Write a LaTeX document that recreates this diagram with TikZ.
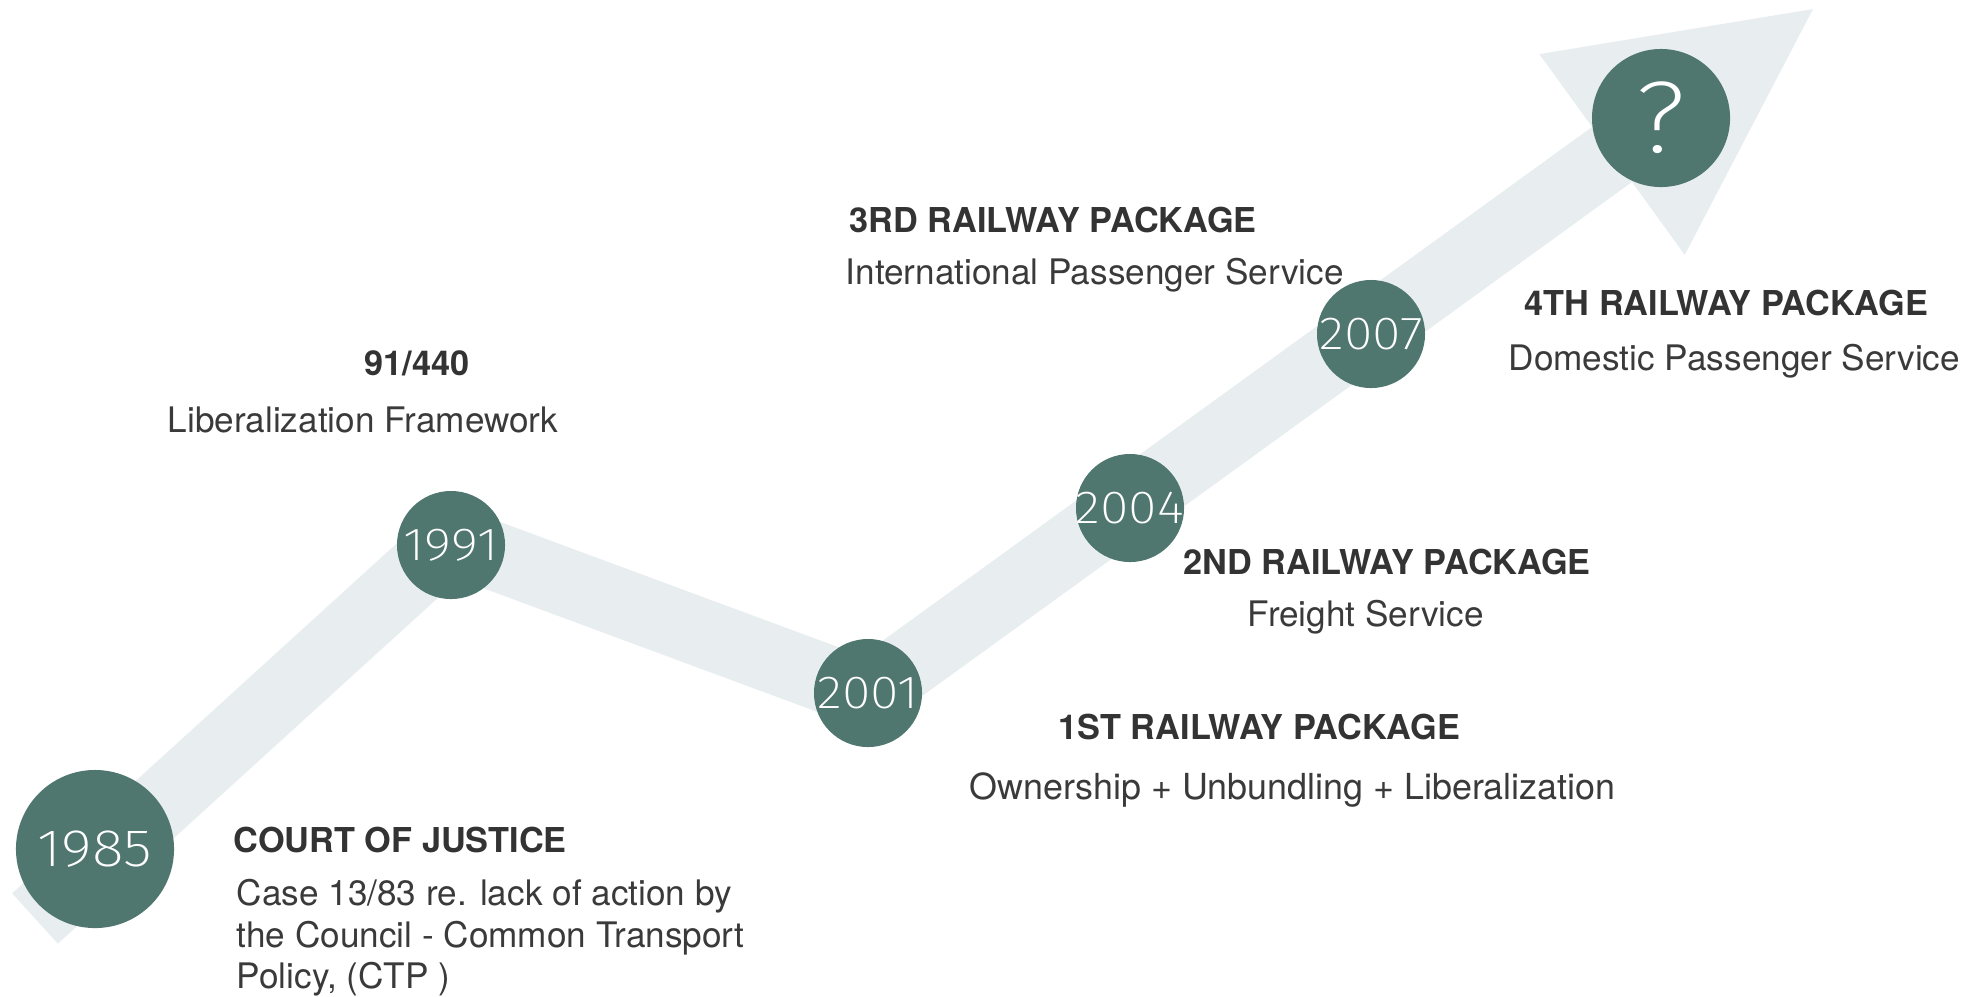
\documentclass[tikz,border=0pt]{standalone}
\usepackage{fontspec}
\setmainfont{TeX Gyre Heros}
\newfontfamily\yearfont{Fira Sans}[UprightFont={* ExtraLight},FakeStretch=1.12]
\definecolor{bandgray}{HTML}{E8EEF0}
\definecolor{yeargreen}{HTML}{50776F}
\definecolor{textgray}{HTML}{333333}
\definecolor{bodygray}{HTML}{3A3A3A}
\begin{document}
\begin{tikzpicture}[x=0.01cm,y=-0.01cm,
   yearnode/.style={circle,fill=yeargreen,text=white,inner sep=0pt,minimum size=1.08cm,font=\yearfont\fontsize{13.2}{15}\selectfont},
   headtext/.style={inner sep=0pt,text=textgray,font=\fontsize{9.75}{12}\selectfont\bfseries},
   bodytext/.style={inner sep=0pt,text=bodygray,font=\fontsize{10}{12}\selectfont}]
   \useasboundingbox (0,0) rectangle (1986,996);
   \coordinate (tail) at (35,918.5);
   \coordinate (bendA) at (451,540);
   \coordinate (bendB) at (867,694);
   \coordinate (headbase) at (1612,154.5);
   \coordinate (tip) at (1813,9);
   \coordinate (barbL) at (1539.3,54.1);
   \coordinate (barbR) at (1684.7,254.9);
   \draw[bandgray,line width=0.68cm] (tail) -- (bendA) -- (bendB) -- (headbase);
   \fill[bandgray] (barbL) -- (tip) -- (barbR) -- cycle;
   \node[yearnode,minimum size=1.58cm,font=\yearfont\fontsize{15}{17}\selectfont] (y1985) at (95,849) {\makebox[0pt]{1985}};
   \node[yearnode] (y1991) at (451,545) {\makebox[0pt]{1991}};
   \node[yearnode] (y2001) at (868,693) {\makebox[0pt]{2001}};
   \node[yearnode] (y2004) at (1130,508) {\makebox[0pt]{2004}};
   \node[yearnode] (y2007) at (1371,334) {\makebox[0pt]{2007}};
   \node[yearnode,minimum size=1.38cm,font=\yearfont\fontsize{29}{31}\selectfont] (ynext) at (1661,118) {\makebox[0pt]{?}};
   \node[headtext,anchor=base] (h91) at (417,375) {91/440};
   \node[bodytext,anchor=base] (b91) at (363,432) {Liberalization Framework};
   \node[headtext,anchor=base west] (hcourt) at (233,852) {COURT OF JUSTICE};
   \node[bodytext,anchor=base west] (bcourtA) at (236,905) {Case 13/83 re. lack of action by};
   \node[bodytext,anchor=base west] (bcourtB) at (236,947) {the Council - Common Transport};
   \node[bodytext,anchor=base west] (bcourtC) at (236,988) {Policy, (CTP )};
   \node[headtext,anchor=base west] (hfirst) at (1058,739) {1ST RAILWAY PACKAGE};
   \node[bodytext,anchor=base west,font=\fontsize{10.2}{12}\selectfont] (bfirst) at (969,799) {Ownership + Unbundling + Liberalization};
   \node[headtext,anchor=base west] (hsecond) at (1183,574) {2ND RAILWAY PACKAGE};
   \node[bodytext,anchor=base west] (bsecond) at (1247,626) {Freight Service};
   \node[headtext,anchor=base west] (hthird) at (849,232) {3RD RAILWAY PACKAGE};
   \node[bodytext,anchor=base west] (bthird) at (845,284) {International Passenger Service};
   \node[headtext,anchor=base west] (hfourth) at (1524,315) {4TH RAILWAY PACKAGE};
   \node[bodytext,anchor=base west] (bfourth) at (1508,370) {Domestic Passenger Service};
\end{tikzpicture}
\end{document}
